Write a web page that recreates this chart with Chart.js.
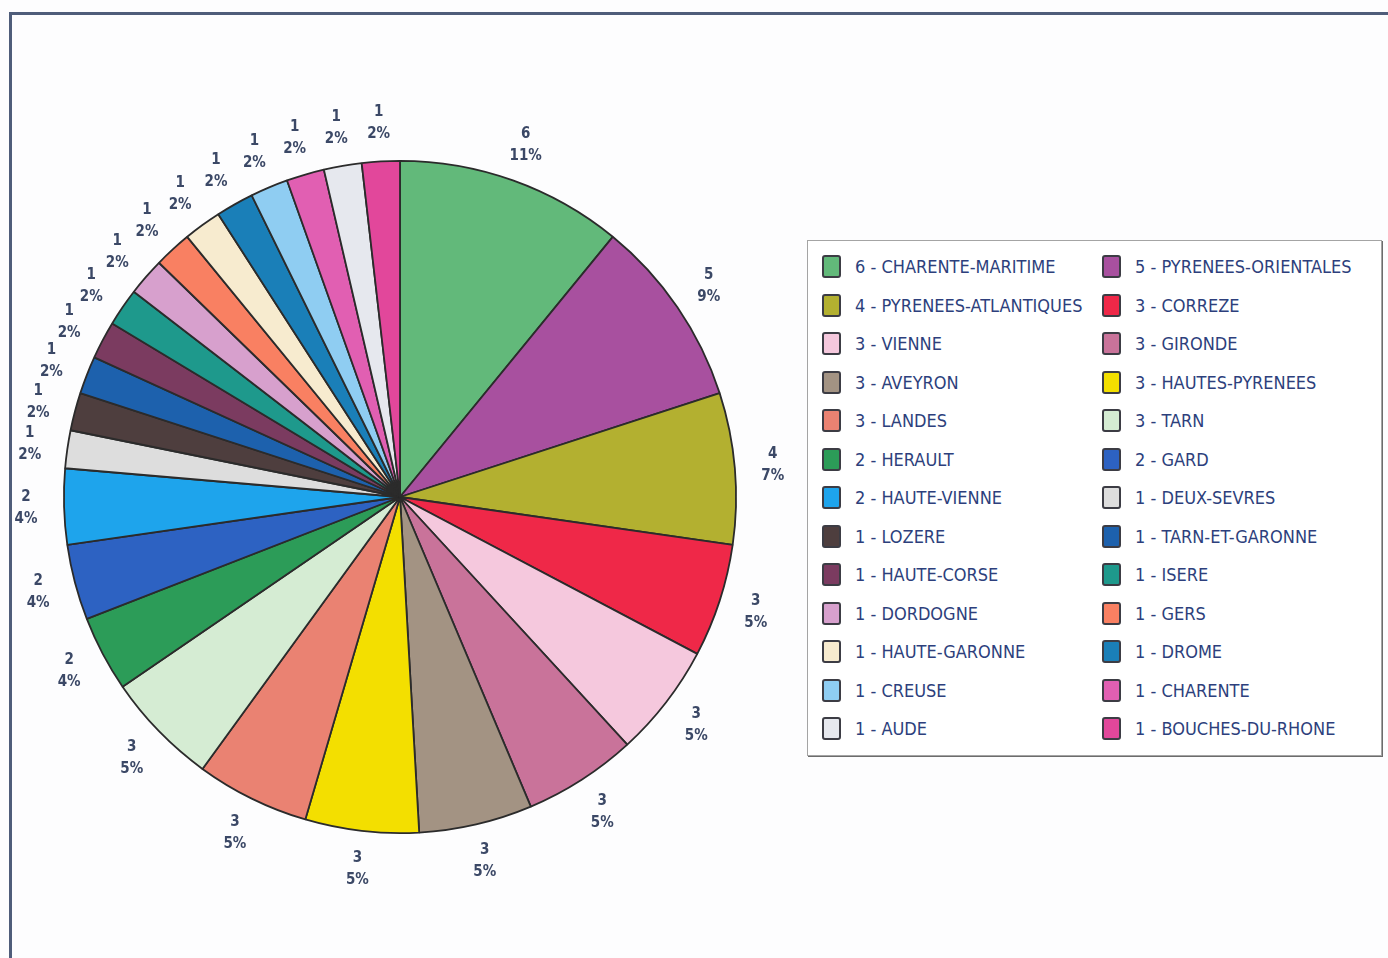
<!DOCTYPE html>
<html>
<head>
<meta charset="utf-8">
<script src="https://cdn.jsdelivr.net/npm/chart.js@4.4.0/dist/chart.umd.min.js"></script>
<style>
  body { margin: 0; background: #fff; }
  #page { position: relative; width: 1388px; height: 958px; overflow: hidden; background: #fdfdfe; }
  #frame { position: absolute; left: 9px; top: 12px; right: -10px; bottom: -10px;
    border-top: 3px solid #4f5d7a; border-left: 3px solid #4f5d7a; }
  #wrap { position: absolute; left: 0; top: 0; width: 800px; height: 958px; }
  #legend { position: absolute; left: 807px; top: 240px; width: 573px; height: 514px;
    border: 1px solid #a4a4a4; box-shadow: 1px 1px 0 #6c6c6c; background: #fff; }
  .item { position: absolute; height: 23px; }
  .sw { position: absolute; left: 0; top: 0; width: 19px; height: 23px; box-sizing: border-box;
    border: 2px solid #3c3c44; border-radius: 3px; }
  .tx { position: absolute; left: 33px; top: 0; line-height: 23px; white-space: nowrap;
    font-family: "Liberation Sans Narrow", "DejaVu Sans Condensed", sans-serif;
    font-size: 18px; color: #2d3f7c; }
</style>
</head>
<body>
<div id="page">
  <div id="frame"></div>
  <div id="wrap"><canvas id="deptChart"></canvas></div>
  <div id="legend"></div>
</div>
<script>
var departements = [
  "CHARENTE-MARITIME", "PYRENEES-ORIENTALES", "PYRENEES-ATLANTIQUES", "CORREZE",
  "VIENNE", "GIRONDE", "AVEYRON", "HAUTES-PYRENEES", "LANDES", "TARN",
  "HERAULT", "GARD", "HAUTE-VIENNE", "DEUX-SEVRES", "LOZERE", "TARN-ET-GARONNE",
  "HAUTE-CORSE", "ISERE", "DORDOGNE", "GERS", "HAUTE-GARONNE", "DROME",
  "CREUSE", "CHARENTE", "AUDE", "BOUCHES-DU-RHONE"
];
var nombre = [6, 5, 4, 3, 3, 3, 3, 3, 3, 3, 2, 2, 2, 1, 1, 1, 1, 1, 1, 1, 1, 1, 1, 1, 1, 1];
var couleurs = [
  "#62b97a", "#a8509f", "#b3b030", "#ef2848", "#f5c8dd", "#c9739a", "#a39383",
  "#f3df00", "#ea8272", "#d5ecd3", "#2c9c58", "#2d62c2", "#1ea4ec", "#dddddd",
  "#4e3e3e", "#1d61ad", "#7b3b60", "#1e998c", "#d7a0cd", "#f98062", "#f7ebcf",
  "#1a7fb8", "#8fcdf2", "#e15fb2", "#e6e8ee", "#e2479b"
];

var total = nombre.reduce(function (a, b) { return a + b; }, 0);

// value + percent written outside each slice
var outLabels = {
  id: "outLabels",
  afterDatasetsDraw: function (chart) {
    var ctx = chart.ctx;
    var meta = chart.getDatasetMeta(0);
    var data = chart.data.datasets[0].data;
    ctx.save();
    ctx.font = "bold 15px 'Liberation Sans Narrow', 'DejaVu Sans Condensed', sans-serif";
    ctx.fillStyle = "#3b4866";
    ctx.textAlign = "center";
    ctx.textBaseline = "middle";
    meta.data.forEach(function (arc, i) {
      var mid = (arc.startAngle + arc.endAngle) / 2;
      var r = arc.outerRadius + 38;
      var x = arc.x + Math.cos(mid) * r;
      var y = arc.y + Math.sin(mid) * r;
      var pct = Math.round(data[i] / total * 100) + "%";
      ctx.fillText(String(data[i]), x, y - 11);
      ctx.fillText(pct, x, y + 11);
    });
    ctx.restore();
  }
};

var ctx = document.getElementById("deptChart");

var myPieChart = new Chart(ctx, {
  type: "pie",
  data: {
    labels: departements,
    datasets: [
      {
        label: "total",
        data: nombre,
        backgroundColor: couleurs,
        borderColor: "#2b2b2b",
        borderWidth: 1.8,
      },
    ],
  },
  options: {
    responsive: true,
    maintainAspectRatio: false,
    animation: false,
    layout: { padding: { top: 160, bottom: 124, left: 63, right: 63 } },
    plugins: {
      legend: { display: false },
      tooltip: { enabled: false },
    },
  },
  plugins: [outLabels],
});

// legend, two columns read row by row
var legend = document.getElementById("legend");
departements.forEach(function (nom, i) {
  var row = Math.floor(i / 2), col = i % 2;
  var item = document.createElement("div");
  item.className = "item";
  item.style.left = (col === 0 ? 14 : 294) + "px";
  item.style.top = (14 + row * 38.5) + "px";
  var sw = document.createElement("div");
  sw.className = "sw";
  sw.style.background = couleurs[i];
  var tx = document.createElement("div");
  tx.className = "tx";
  tx.textContent = nombre[i] + " - " + nom;
  item.appendChild(sw);
  item.appendChild(tx);
  legend.appendChild(item);
});
</script>
</body>
</html>
